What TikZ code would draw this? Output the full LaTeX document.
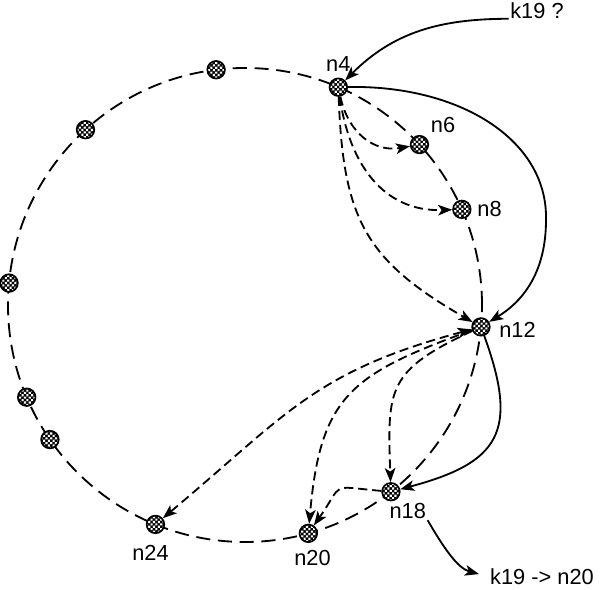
\documentclass[tikz,border=0pt]{standalone}
\usepackage{fontspec}
\setmainfont{Liberation Sans}
\usetikzlibrary{arrows.meta,patterns,backgrounds}
\pgfdeclarepatternformonly{checker}{\pgfqpoint{-0.5pt}{-0.5pt}}{\pgfqpoint{4pt}{4pt}}{\pgfqpoint{3.4pt}{3.4pt}}{
  \pgfpathrectangle{\pgfqpoint{0pt}{0pt}}{\pgfqpoint{1.5pt}{1.5pt}}
  \pgfpathrectangle{\pgfqpoint{1.7pt}{1.7pt}}{\pgfqpoint{1.5pt}{1.5pt}}
  \pgfusepath{fill}}
\begin{document}
\begin{tikzpicture}[x=0.025cm,y=0.025cm,
  peer/.style={circle,draw,line width=1.2pt,minimum size=0.44cm,inner sep=0pt,
    preaction={fill=black},pattern=checker,pattern color=white},
  lab/.style={font=\fontsize{15.5}{18}\selectfont,inner sep=1pt},
  ring/.style={line width=1.3pt,dash pattern=on 10pt off 5.5pt},
  tip/.style={-{Stealth[length=10pt,width=7.5pt,inset=2.5pt]}},
  tips/.style={{Stealth[length=10pt,width=7.5pt,inset=2.5pt]}-{Stealth[length=10pt,width=7.5pt,inset=2.5pt]}},
  hop/.style={line width=1.3pt,tip},
  fing/.style={hop,dash pattern=on 6.5pt off 3.5pt}]
 \useasboundingbox (0,0) rectangle (600,590);
 % peers on the ring
 \begin{scope}[shift={(245,285)}]
 \draw[ring] (0,0) circle[radius=237];
 \node[peer] (t1) at (97:237) {};
 \node[peer,label={[lab,label distance=3pt]above:n4}] (n4) at (66.8:237) {};
 \node[peer,label={[lab,label distance=3pt]above right:n6}] (n6) at (42.6:237) {};
 \node[peer,label={[lab,label distance=3pt]right:n8}] (n8) at (23.8:237) {};
 \node[peer,label={[lab,label distance=5pt,yshift=-2pt]right:n12}] (n12) at (354.7:237) {};
 \node[peer,label={[lab,name=l18,xshift=12pt]below:n18}] (n18) at (308:237) {};
 \node[peer,label={[lab,label distance=4pt,xshift=3pt]below:n20}] (n20) at (285.5:237) {};
 \node[peer,label={[lab,label distance=7pt,xshift=-3.5pt]below:n24}] (n24) at (247.8:237) {};
 \foreach \a/\n in {214.6/p1,202.9/p2,174.7/p3,132.3/p4}
   \node[peer] (\n) at (\a:237) {};
 \end{scope}
 \node[lab] (kq) at (537,579) {k19 ?};
 \node[lab,inner sep=0pt] (res) at (542,13) {k19 -> n20};
 % lookup
 \draw[hop] (kq.base west) to[out=180,in=45] (n4);
 \draw[hop] (n4) .. controls (460,505) and (548,450) .. (546,370) .. controls (546,320) and (525,290) .. (n12);
 \draw[hop] (n12) to[out=-70,in=15,looseness=1.5] (n18);
 \draw[hop,shorten >=8pt] (l18.south east) to[out=-60,in=165] (res.west);
 % fingers
 \draw[fing] (n4) to[out=-78,in=190,looseness=1.1] (n6);
 \draw[fing] (n4) to[out=-82,in=182,looseness=1.1] (n8);
 \draw[fing] (n4) to[out=-88,in=150,looseness=1.2] (n12);
 \draw[fing,tips] (n12) to[out=195,in=40,looseness=1.15] (n24);
 \draw[fing] (n12) to[out=200,in=85,looseness=1.3] (n20);
 \draw[fing] (n12) to[out=205,in=92,looseness=1.4] (n18);
 \draw[fing] (n18) to[out=175,in=55,looseness=1.8] (n20);
\end{tikzpicture}
\end{document}
